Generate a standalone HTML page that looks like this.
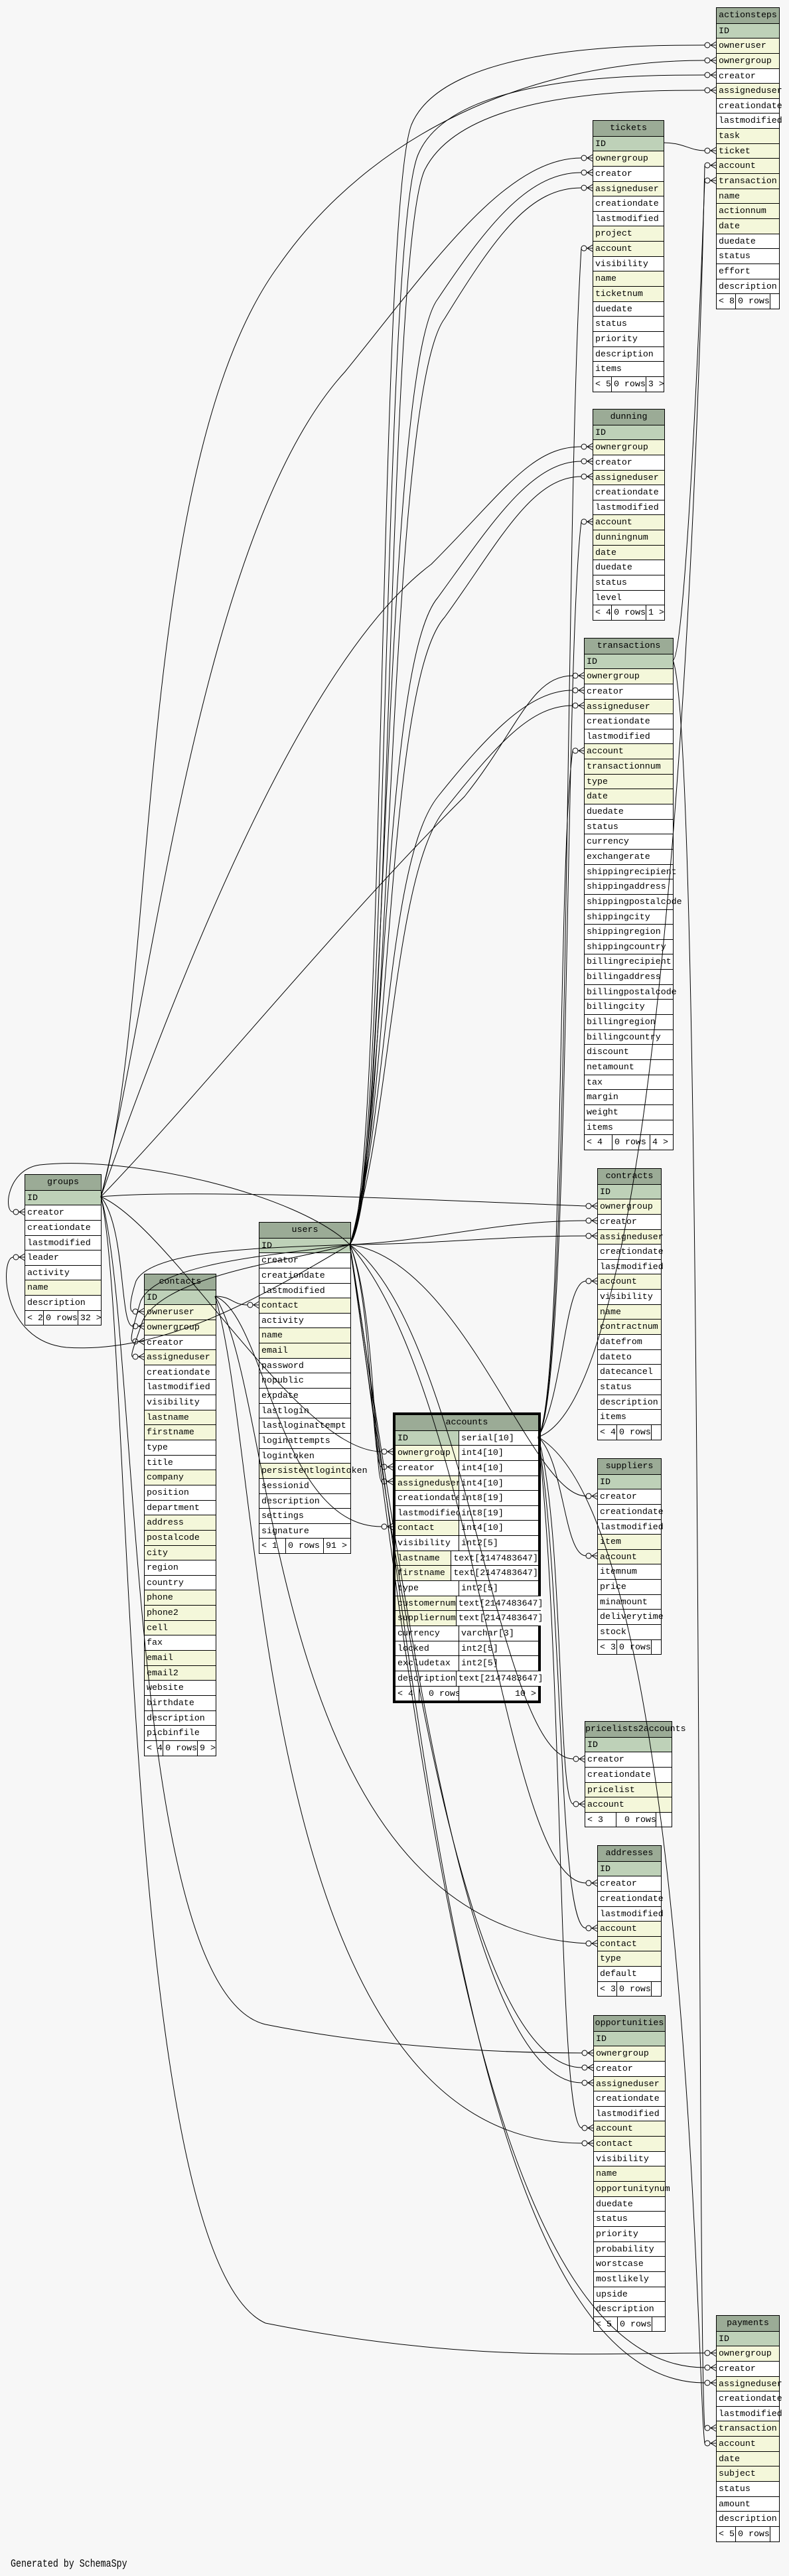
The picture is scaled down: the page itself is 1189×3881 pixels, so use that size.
<!DOCTYPE html>
<html><head><meta charset="utf-8"><style>
html,body{margin:0;padding:0;background:#f7f7f7}
body{width:1189px;height:3881px;position:relative;overflow:hidden}
.t{position:absolute;border:1px solid #000;background:#fff;font:13.3px "Liberation Mono",monospace;color:#000}
.t>div{height:22.65px;border-top:1px solid #000;box-sizing:border-box;padding-left:3px;line-height:21px;white-space:nowrap}
.t>div:first-child{border-top:none}
.t>.h{background:#9bab96;text-align:center;padding-left:0}
.t>.i{background:#bed1b8}
.t>.y{background:#f4f7da}
.t>.f{display:flex;padding-left:0}
.f span{display:block;height:100%;box-sizing:border-box;padding-left:3px;white-space:nowrap}
.f span+span{border-left:1px solid #000}
.f span:first-child{width:28px}
.f span:nth-child(2){width:52px}
.f span:last-child{flex:1}
.acc{border:4px solid #000}
.acc>div{display:flex;padding-left:0}
.acc>div>span{display:block;box-sizing:border-box;padding-left:3px;height:100%}
.acc>div>span:first-child{width:96px;border-right:1px solid #000}
.acc>div>span:last-child{flex:1;background:#fff}
.acc>.h{display:block}
svg{position:absolute;left:0;top:0}
.gen{position:absolute;left:16px;top:3853px;font:13.3px "Liberation Mono",monospace;transform:scaleY(1.25);transform-origin:0 0}
</style></head><body>

<div class="t" style="left:1079px;top:11px;width:94px">
<div class="h">actionsteps</div><div class="i">ID</div><div class="y">owneruser</div><div class="y">ownergroup</div><div>creator</div><div class="y">assigneduser</div><div>creationdate</div><div>lastmodified</div><div class="y">task</div><div class="y">ticket</div><div class="y">account</div><div class="y">transaction</div><div class="y">name</div><div class="y">actionnum</div><div class="y">date</div><div>duedate</div><div>status</div><div>effort</div><div>description</div><div class="f"><span>&lt; 8</span><span>0 rows</span><span></span></div>
</div>

<div class="t" style="left:893px;top:181px;width:106px">
<div class="h">tickets</div><div class="i">ID</div><div class="y">ownergroup</div><div>creator</div><div class="y">assigneduser</div><div>creationdate</div><div>lastmodified</div><div class="y">project</div><div class="y">account</div><div>visibility</div><div class="y">name</div><div class="y">ticketnum</div><div>duedate</div><div>status</div><div>priority</div><div>description</div><div>items</div><div class="f"><span>&lt; 5</span><span>0 rows</span><span>3 &gt;</span></div>
</div>

<div class="t" style="left:893px;top:616px;width:107px">
<div class="h">dunning</div><div class="i">ID</div><div class="y">ownergroup</div><div>creator</div><div class="y">assigneduser</div><div>creationdate</div><div>lastmodified</div><div class="y">account</div><div class="y">dunningnum</div><div class="y">date</div><div>duedate</div><div>status</div><div>level</div><div class="f"><span>&lt; 4</span><span>0 rows</span><span>1 &gt;</span></div>
</div>

<div class="t" style="left:880px;top:961px;width:133px">
<div class="h">transactions</div><div class="i">ID</div><div class="y">ownergroup</div><div>creator</div><div class="y">assigneduser</div><div>creationdate</div><div>lastmodified</div><div class="y">account</div><div class="y">transactionnum</div><div class="y">type</div><div class="y">date</div><div>duedate</div><div>status</div><div>currency</div><div>exchangerate</div><div>shippingrecipient</div><div>shippingaddress</div><div>shippingpostalcode</div><div>shippingcity</div><div>shippingregion</div><div>shippingcountry</div><div>billingrecipient</div><div>billingaddress</div><div>billingpostalcode</div><div>billingcity</div><div>billingregion</div><div>billingcountry</div><div>discount</div><div>netamount</div><div>tax</div><div>margin</div><div>weight</div><div>items</div><div class="f"><span style="width:41px">&lt; 4</span><span style="width:57px">0 rows</span><span>4 &gt;</span></div>
</div>

<div class="t" style="left:37px;top:1769px;width:114px">
<div class="h">groups</div><div class="i">ID</div><div>creator</div><div>creationdate</div><div>lastmodified</div><div>leader</div><div>activity</div><div class="y">name</div><div>description</div><div class="f"><span>&lt; 2</span><span>0 rows</span><span>32 &gt;</span></div>
</div>

<div class="t" style="left:217px;top:1919px;width:107px">
<div class="h">contacts</div><div class="i">ID</div><div class="y">owneruser</div><div class="y">ownergroup</div><div>creator</div><div class="y">assigneduser</div><div>creationdate</div><div>lastmodified</div><div>visibility</div><div class="y">lastname</div><div class="y">firstname</div><div>type</div><div>title</div><div class="y">company</div><div>position</div><div>department</div><div class="y">address</div><div class="y">postalcode</div><div class="y">city</div><div>region</div><div>country</div><div class="y">phone</div><div class="y">phone2</div><div class="y">cell</div><div>fax</div><div class="y">email</div><div class="y">email2</div><div>website</div><div>birthdate</div><div>description</div><div>picbinfile</div><div class="f"><span>&lt; 4</span><span>0 rows</span><span>9 &gt;</span></div>
</div>

<div class="t" style="left:390px;top:1841px;width:137px">
<div class="h">users</div><div class="i">ID</div><div>creator</div><div>creationdate</div><div>lastmodified</div><div class="y">contact</div><div>activity</div><div class="y">name</div><div class="y">email</div><div>password</div><div>nopublic</div><div>expdate</div><div>lastlogin</div><div>lastloginattempt</div><div>loginattempts</div><div>logintoken</div><div class="y">persistentlogintoken</div><div>sessionid</div><div>description</div><div>settings</div><div>signature</div><div class="f"><span style="width:39px">&lt; 1</span><span style="width:57px">0 rows</span><span>91 &gt;</span></div>
</div>

<div class="t acc" style="left:592px;top:2128px;width:215px">
<div class="h">accounts</div>
<div><span class="i" style="background:#bed1b8">ID</span><span>serial[10]</span></div>
<div><span style="background:#f4f7da">ownergroup</span><span>int4[10]</span></div>
<div><span>creator</span><span>int4[10]</span></div>
<div><span style="background:#f4f7da">assigneduser</span><span>int4[10]</span></div>
<div><span>creationdate</span><span>int8[19]</span></div>
<div><span>lastmodified</span><span>int8[19]</span></div>
<div><span style="background:#f4f7da">contact</span><span>int4[10]</span></div>
<div><span>visibility</span><span>int2[5]</span></div>
<div><span style="background:#f4f7da">lastname</span><span>text[2147483647]</span></div>
<div><span style="background:#f4f7da">firstname</span><span>text[2147483647]</span></div>
<div><span>type</span><span>int2[5]</span></div>
<div><span style="background:#f4f7da">customernum</span><span>text[2147483647]</span></div>
<div><span style="background:#f4f7da">suppliernum</span><span>text[2147483647]</span></div>
<div><span>currency</span><span>varchar[3]</span></div>
<div><span>locked</span><span>int2[5]</span></div>
<div><span>excludetax</span><span>int2[5]</span></div>
<div><span>description</span><span>text[2147483647]</span></div>
<div><span style="width:36px">&lt; 4</span><span style="flex:none;width:60px;border-right:1px solid #000;padding-left:14px">0 rows</span><span style="text-align:right;padding-right:3px">10 &gt;</span></div>
</div>

<div class="t" style="left:900px;top:1760px;width:95px">
<div class="h">contracts</div><div class="i">ID</div><div class="y">ownergroup</div><div>creator</div><div class="y">assigneduser</div><div>creationdate</div><div>lastmodified</div><div class="y">account</div><div>visibility</div><div class="y">name</div><div class="y">contractnum</div><div>datefrom</div><div>dateto</div><div>datecancel</div><div>status</div><div>description</div><div>items</div><div class="f"><span>&lt; 4</span><span>0 rows</span><span></span></div>
</div>

<div class="t" style="left:900px;top:2197px;width:95px">
<div class="h">suppliers</div><div class="i">ID</div><div>creator</div><div>creationdate</div><div>lastmodified</div><div class="y">item</div><div class="y">account</div><div>itemnum</div><div>price</div><div>minamount</div><div>deliverytime</div><div>stock</div><div class="f"><span>&lt; 3</span><span>0 rows</span><span></span></div>
</div>

<div class="t" style="left:881px;top:2593px;width:130px">
<div class="h">pricelists2accounts</div><div class="i">ID</div><div>creator</div><div>creationdate</div><div class="y">pricelist</div><div class="y">account</div><div class="f"><span style="width:46px">&lt; 3</span><span style="width:60px;padding-left:12px">0 rows</span><span></span></div>
</div>

<div class="t" style="left:900px;top:2780px;width:95px">
<div class="h">addresses</div><div class="i">ID</div><div>creator</div><div>creationdate</div><div>lastmodified</div><div class="y">account</div><div class="y">contact</div><div class="y">type</div><div>default</div><div class="f"><span>&lt; 3</span><span>0 rows</span><span></span></div>
</div>

<div class="t" style="left:894px;top:3036px;width:107px">
<div class="h">opportunities</div><div class="i">ID</div><div class="y">ownergroup</div><div>creator</div><div class="y">assigneduser</div><div>creationdate</div><div>lastmodified</div><div class="y">account</div><div class="y">contact</div><div>visibility</div><div class="y">name</div><div class="y">opportunitynum</div><div>duedate</div><div>status</div><div>priority</div><div>probability</div><div>worstcase</div><div>mostlikely</div><div>upside</div><div>description</div><div class="f"><span style="width:35px">&lt; 5</span><span>0 rows</span><span></span></div>
</div>

<div class="t" style="left:1079px;top:3488px;width:94px">
<div class="h">payments</div><div class="i">ID</div><div class="y">ownergroup</div><div>creator</div><div class="y">assigneduser</div><div>creationdate</div><div>lastmodified</div><div class="y">transaction</div><div class="y">account</div><div class="y">date</div><div class="y">subject</div><div>status</div><div>amount</div><div>description</div><div class="f"><span>&lt; 5</span><span>0 rows</span><span></span></div>
</div>

<svg width="1189" height="3881" viewBox="0 0 1189 3881" fill="none" stroke="#000" stroke-width="1">
<!-- groups -->
<path d="M152,1803 C240,1500 200,700 420,400 C560,200 800,91 1062,91"/>
<path d="M152,1803 C230,1500 300,800 520,560 C650,400 760,238 876,238"/>
<path d="M152,1803 C260,1500 450,1000 650,850 C760,740 800,673 876,673"/>
<path d="M152,1803 C300,1650 500,1400 700,1200 C780,1100 800,1018 863,1018"/>
<path d="M152,1803 C300,1790 700,1810 883,1817"/>
<path d="M152,1803 C190,1850 180,1998 200,1998"/>
<path d="M152,1803 C260,1850 450,2187 575,2187"/>
<path d="M152,1803 C210,2000 190,3000 400,3050 C600,3090 800,3093 877,3093"/>
<path d="M152,1803 C200,2000 180,3400 400,3500 C700,3560 900,3545 1062,3545"/>
<!-- users -->
<path d="M527,1875 C580,1800 570,318 620,188 C670,68 960,68 1062,68"/>
<path d="M527,1875 C585,1800 575,363 630,233 C680,113 960,113 1062,113"/>
<path d="M527,1875 C590,1800 580,386 640,256 C700,136 960,136 1062,136"/>
<path d="M527,1875 C585,1800 575,560 660,450 C740,330 800,260 876,260"/>
<path d="M527,1875 C590,1800 580,600 670,480 C750,350 800,283 876,283"/>
<path d="M527,1875 C585,1700 575,1000 660,900 C740,790 800,695 876,695"/>
<path d="M527,1875 C590,1700 580,1030 670,930 C750,820 800,718 876,718"/>
<path d="M527,1875 C585,1700 580,1300 660,1200 C740,1100 800,1040 863,1040"/>
<path d="M527,1875 C590,1700 590,1320 670,1220 C750,1120 800,1063 863,1063"/>
<path d="M527,1875 C450,1800 200,1740 60,1755 C10,1762 5,1826 20,1826"/>
<path d="M527,1875 C400,1950 250,2040 100,2030 C0,2020 0,1894 20,1894"/>
<path d="M527,1875 C420,1880 230,1880 205,1930 C195,1960 195,1976 200,1976"/>
<path d="M527,1875 C430,1890 240,1900 212,1960 C200,2000 195,2021 200,2021"/>
<path d="M527,1875 C440,1900 250,1920 215,1990 C205,2020 195,2044 200,2044"/>
<path d="M527,1875 C560,1950 560,2210 575,2210"/>
<path d="M527,1875 C565,1960 565,2232 575,2232"/>
<path d="M527,1875 C650,1870 750,1839 883,1839"/>
<path d="M527,1875 C650,1875 750,1862 883,1862"/>
<path d="M527,1875 C700,1900 800,2254 883,2254"/>
<path d="M527,1875 C700,2000 750,2650 864,2650"/>
<path d="M527,1875 C720,2100 760,2837 883,2837"/>
<path d="M527,1875 C600,2400 700,3115 877,3115"/>
<path d="M527,1875 C610,2400 700,3138 877,3138"/>
<path d="M527,1875 C620,2500 700,3567 1062,3567"/>
<path d="M527,1875 C630,2500 700,3590 1062,3590"/>
<!-- contacts -->
<path d="M324,1953 C350,1953 350,1966 373,1966"/>
<path d="M324,1953 C400,1980 420,2300 575,2300"/>
<path d="M324,1953 C420,2100 400,2900 883,2928"/>
<path d="M324,1953 C400,2200 380,3229 877,3229"/>
<!-- accounts -->
<path d="M811,2165 C1000,2100 1050,800 1062,249"/>
<path d="M811,2165 C860,2100 850,800 876,374"/>
<path d="M811,2165 C860,2100 850,1000 876,786"/>
<path d="M811,2165 C850,2100 840,1300 863,1131"/>
<path d="M811,2165 C850,2100 850,1930 883,1930"/>
<path d="M811,2165 C850,2200 850,2344 883,2344"/>
<path d="M811,2165 C850,2300 840,2718 864,2718"/>
<path d="M811,2165 C850,2400 840,2905 883,2905"/>
<path d="M811,2165 C850,2500 840,3206 877,3206"/>
<path d="M811,2165 C1040,2300 1050,3600 1062,3681"/>
<!-- tickets / transactions -->
<path d="M1000,215 C1030,215 1040,227 1062,227"/>
<path d="M1014,995 C1030,990 1050,600 1062,272"/>
<path d="M1014,995 C1060,1100 1050,3500 1062,3658"/>
<!-- markers -->
<g id="mk">
<g transform="translate(1079,68)"><circle cx="-13" cy="0" r="4"/><path d="M-9,0H0M-8,0L0,-5M-8,0L0,5"/></g>
<g transform="translate(1079,91)"><circle cx="-13" cy="0" r="4"/><path d="M-9,0H0M-8,0L0,-5M-8,0L0,5"/></g>
<g transform="translate(1079,113)"><circle cx="-13" cy="0" r="4"/><path d="M-9,0H0M-8,0L0,-5M-8,0L0,5"/></g>
<g transform="translate(1079,136)"><circle cx="-13" cy="0" r="4"/><path d="M-9,0H0M-8,0L0,-5M-8,0L0,5"/></g>
<g transform="translate(1079,227)"><circle cx="-13" cy="0" r="4"/><path d="M-9,0H0M-8,0L0,-5M-8,0L0,5"/></g>
<g transform="translate(1079,249)"><circle cx="-13" cy="0" r="4"/><path d="M-9,0H0M-8,0L0,-5M-8,0L0,5"/></g>
<g transform="translate(1079,272)"><circle cx="-13" cy="0" r="4"/><path d="M-9,0H0M-8,0L0,-5M-8,0L0,5"/></g>
<g transform="translate(893,238)"><circle cx="-13" cy="0" r="4"/><path d="M-9,0H0M-8,0L0,-5M-8,0L0,5"/></g>
<g transform="translate(893,260)"><circle cx="-13" cy="0" r="4"/><path d="M-9,0H0M-8,0L0,-5M-8,0L0,5"/></g>
<g transform="translate(893,283)"><circle cx="-13" cy="0" r="4"/><path d="M-9,0H0M-8,0L0,-5M-8,0L0,5"/></g>
<g transform="translate(893,374)"><circle cx="-13" cy="0" r="4"/><path d="M-9,0H0M-8,0L0,-5M-8,0L0,5"/></g>
<g transform="translate(893,673)"><circle cx="-13" cy="0" r="4"/><path d="M-9,0H0M-8,0L0,-5M-8,0L0,5"/></g>
<g transform="translate(893,695)"><circle cx="-13" cy="0" r="4"/><path d="M-9,0H0M-8,0L0,-5M-8,0L0,5"/></g>
<g transform="translate(893,718)"><circle cx="-13" cy="0" r="4"/><path d="M-9,0H0M-8,0L0,-5M-8,0L0,5"/></g>
<g transform="translate(893,786)"><circle cx="-13" cy="0" r="4"/><path d="M-9,0H0M-8,0L0,-5M-8,0L0,5"/></g>
<g transform="translate(880,1018)"><circle cx="-13" cy="0" r="4"/><path d="M-9,0H0M-8,0L0,-5M-8,0L0,5"/></g>
<g transform="translate(880,1040)"><circle cx="-13" cy="0" r="4"/><path d="M-9,0H0M-8,0L0,-5M-8,0L0,5"/></g>
<g transform="translate(880,1063)"><circle cx="-13" cy="0" r="4"/><path d="M-9,0H0M-8,0L0,-5M-8,0L0,5"/></g>
<g transform="translate(880,1131)"><circle cx="-13" cy="0" r="4"/><path d="M-9,0H0M-8,0L0,-5M-8,0L0,5"/></g>
<g transform="translate(37,1826)"><circle cx="-13" cy="0" r="4"/><path d="M-9,0H0M-8,0L0,-5M-8,0L0,5"/></g>
<g transform="translate(37,1894)"><circle cx="-13" cy="0" r="4"/><path d="M-9,0H0M-8,0L0,-5M-8,0L0,5"/></g>
<g transform="translate(217,1976)"><circle cx="-13" cy="0" r="4"/><path d="M-9,0H0M-8,0L0,-5M-8,0L0,5"/></g>
<g transform="translate(217,1998)"><circle cx="-13" cy="0" r="4"/><path d="M-9,0H0M-8,0L0,-5M-8,0L0,5"/></g>
<g transform="translate(217,2021)"><circle cx="-13" cy="0" r="4"/><path d="M-9,0H0M-8,0L0,-5M-8,0L0,5"/></g>
<g transform="translate(217,2044)"><circle cx="-13" cy="0" r="4"/><path d="M-9,0H0M-8,0L0,-5M-8,0L0,5"/></g>
<g transform="translate(390,1966)"><circle cx="-13" cy="0" r="4"/><path d="M-9,0H0M-8,0L0,-5M-8,0L0,5"/></g>
<g transform="translate(592,2187)"><circle cx="-13" cy="0" r="4"/><path d="M-9,0H0M-8,0L0,-5M-8,0L0,5"/></g>
<g transform="translate(592,2210)"><circle cx="-13" cy="0" r="4"/><path d="M-9,0H0M-8,0L0,-5M-8,0L0,5"/></g>
<g transform="translate(592,2232)"><circle cx="-13" cy="0" r="4"/><path d="M-9,0H0M-8,0L0,-5M-8,0L0,5"/></g>
<g transform="translate(592,2300)"><circle cx="-13" cy="0" r="4"/><path d="M-9,0H0M-8,0L0,-5M-8,0L0,5"/></g>
<g transform="translate(900,1817)"><circle cx="-13" cy="0" r="4"/><path d="M-9,0H0M-8,0L0,-5M-8,0L0,5"/></g>
<g transform="translate(900,1839)"><circle cx="-13" cy="0" r="4"/><path d="M-9,0H0M-8,0L0,-5M-8,0L0,5"/></g>
<g transform="translate(900,1862)"><circle cx="-13" cy="0" r="4"/><path d="M-9,0H0M-8,0L0,-5M-8,0L0,5"/></g>
<g transform="translate(900,1930)"><circle cx="-13" cy="0" r="4"/><path d="M-9,0H0M-8,0L0,-5M-8,0L0,5"/></g>
<g transform="translate(900,2254)"><circle cx="-13" cy="0" r="4"/><path d="M-9,0H0M-8,0L0,-5M-8,0L0,5"/></g>
<g transform="translate(900,2344)"><circle cx="-13" cy="0" r="4"/><path d="M-9,0H0M-8,0L0,-5M-8,0L0,5"/></g>
<g transform="translate(881,2650)"><circle cx="-13" cy="0" r="4"/><path d="M-9,0H0M-8,0L0,-5M-8,0L0,5"/></g>
<g transform="translate(881,2718)"><circle cx="-13" cy="0" r="4"/><path d="M-9,0H0M-8,0L0,-5M-8,0L0,5"/></g>
<g transform="translate(900,2837)"><circle cx="-13" cy="0" r="4"/><path d="M-9,0H0M-8,0L0,-5M-8,0L0,5"/></g>
<g transform="translate(900,2905)"><circle cx="-13" cy="0" r="4"/><path d="M-9,0H0M-8,0L0,-5M-8,0L0,5"/></g>
<g transform="translate(900,2928)"><circle cx="-13" cy="0" r="4"/><path d="M-9,0H0M-8,0L0,-5M-8,0L0,5"/></g>
<g transform="translate(894,3093)"><circle cx="-13" cy="0" r="4"/><path d="M-9,0H0M-8,0L0,-5M-8,0L0,5"/></g>
<g transform="translate(894,3115)"><circle cx="-13" cy="0" r="4"/><path d="M-9,0H0M-8,0L0,-5M-8,0L0,5"/></g>
<g transform="translate(894,3138)"><circle cx="-13" cy="0" r="4"/><path d="M-9,0H0M-8,0L0,-5M-8,0L0,5"/></g>
<g transform="translate(894,3206)"><circle cx="-13" cy="0" r="4"/><path d="M-9,0H0M-8,0L0,-5M-8,0L0,5"/></g>
<g transform="translate(894,3229)"><circle cx="-13" cy="0" r="4"/><path d="M-9,0H0M-8,0L0,-5M-8,0L0,5"/></g>
<g transform="translate(1079,3545)"><circle cx="-13" cy="0" r="4"/><path d="M-9,0H0M-8,0L0,-5M-8,0L0,5"/></g>
<g transform="translate(1079,3567)"><circle cx="-13" cy="0" r="4"/><path d="M-9,0H0M-8,0L0,-5M-8,0L0,5"/></g>
<g transform="translate(1079,3590)"><circle cx="-13" cy="0" r="4"/><path d="M-9,0H0M-8,0L0,-5M-8,0L0,5"/></g>
<g transform="translate(1079,3658)"><circle cx="-13" cy="0" r="4"/><path d="M-9,0H0M-8,0L0,-5M-8,0L0,5"/></g>
<g transform="translate(1079,3681)"><circle cx="-13" cy="0" r="4"/><path d="M-9,0H0M-8,0L0,-5M-8,0L0,5"/></g>
</g>
</svg>

<div class="gen">Generated by SchemaSpy</div>
</body></html>
